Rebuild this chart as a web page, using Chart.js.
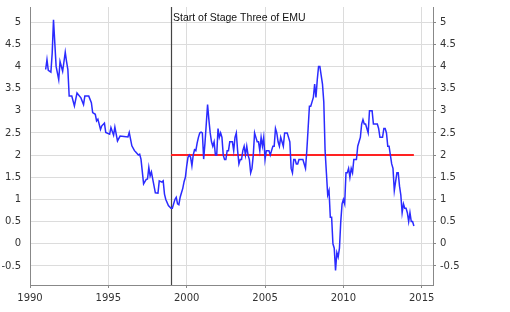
<!DOCTYPE html>
<html>
<head>
<meta charset="utf-8">
<script src="https://cdn.jsdelivr.net/npm/chart.js@4/dist/chart.umd.min.js"></script>
<style>
  html, body { margin: 0; padding: 0; background: #fff; }
  #wrap { width: 510px; height: 312px; }
</style>
</head>
<body>
<div id="wrap"><canvas id="chart" width="510" height="312"></canvas></div>
<script>
// annual HICP inflation, %
// before stage three: sparse monthly readings
const earlyMonths = [
  '1991-01','1991-02','1991-03','1991-05','1991-06','1991-07','1991-09','1991-11','1991-12',
  '1992-02','1992-04','1992-05','1992-06','1992-07','1992-09','1992-11',
  '1993-01','1993-04','1993-06','1993-07','1993-10','1993-12',
  '1994-01','1994-03','1994-04','1994-05','1994-07','1994-08','1994-10','1994-11',
  '1995-02','1995-03','1995-05','1995-06','1995-08','1995-10',
  '1996-01','1996-04','1996-05','1996-07','1996-09','1996-10','1996-12',
  '1997-01','1997-02','1997-04','1997-06','1997-07','1997-08','1997-09','1997-10','1997-11',
  '1998-01','1998-03','1998-04','1998-06','1998-07','1998-08','1998-09','1998-11'
];
const earlyValues = [
  3.93, 4.15, 3.91, 3.87, 4.30, 5.05, 4.00, 3.70, 4.11,
  3.89, 4.32, 4.11, 3.93, 3.33, 3.33, 3.11,
  3.40, 3.29, 3.14, 3.33, 3.33, 3.18,
  2.96, 2.92, 2.77, 2.81, 2.58, 2.66, 2.72, 2.51,
  2.47, 2.62, 2.45, 2.63, 2.32, 2.43,
  2.42, 2.41, 2.51, 2.21, 2.10, 2.07, 2.00,
  2.02, 1.91, 1.35, 1.45, 1.46, 1.72, 1.53, 1.62, 1.46,
  1.15, 1.14, 1.42, 1.39, 1.42, 1.12, 1.00, 0.86
];

// from stage three on: one value per month, starting January 1999
const firstMonth = '1999-01';
const monthlyValues = [
  0.8, 0.8, 0.9, 1.0, 1.05, 0.9, 0.88, 1.05, 1.15, 1.25, 1.4, 1.5,     // 1999
  1.75, 1.95, 2.0, 1.95, 1.76, 2.0, 2.12, 2.1, 2.27, 2.4, 2.5, 2.52,   // 2000
  2.5, 1.91, 2.27, 2.7, 3.14, 2.8, 2.5, 2.3, 2.2, 2.3, 2.0, 2.0,       // 2001
  2.6, 2.4, 2.5, 2.4, 2.0, 1.9, 1.9, 2.1, 2.1, 2.3, 2.3, 2.3,          // 2002
  2.1, 2.4, 2.5, 2.1, 1.8, 1.9, 1.9, 2.1, 2.2, 2.0, 2.2, 2.0,          // 2003
  1.9, 1.6, 1.7, 2.0, 2.5, 2.4, 2.3, 2.3, 2.1, 2.4, 2.2, 2.4,          // 2004
  1.9, 2.1, 2.1, 2.1, 2.0, 2.1, 2.2, 2.2, 2.6, 2.5, 2.3, 2.2,          // 2005
  2.4, 2.3, 2.2, 2.5, 2.5, 2.5, 2.4, 2.3, 1.7, 1.6, 1.9, 1.9,          // 2006
  1.8, 1.8, 1.9, 1.9, 1.9, 1.9, 1.8, 1.7, 2.1, 2.6, 3.1, 3.1,          // 2007
  3.2, 3.3, 3.6, 3.3, 3.7, 4.0, 4.0, 3.8, 3.6, 3.2, 2.1, 1.6,          // 2008
  1.1, 1.2, 0.6, 0.6, 0.0, -0.1, -0.6, -0.2, -0.3, -0.1, 0.5, 0.9,     // 2009
  1.0, 0.9, 1.6, 1.6, 1.7, 1.5, 1.7, 1.6, 1.9, 1.9, 1.9, 2.2,          // 2010
  2.3, 2.4, 2.7, 2.8, 2.7, 2.7, 2.6, 2.5, 3.0, 3.0, 3.0, 2.7,          // 2011
  2.7, 2.7, 2.7, 2.6, 2.4, 2.4, 2.4, 2.6, 2.6, 2.5, 2.2, 2.2,          // 2012
  2.0, 1.8, 1.7, 1.2, 1.4, 1.6, 1.6, 1.3, 1.1, 0.7, 0.9, 0.8,          // 2013
  0.8, 0.7, 0.5, 0.7, 0.5, 0.5, 0.4                                    // 2014
];

// price stability reference line
const targetValue = 2;
const targetFrom = '1999-01';
const targetTo = '2014-07';

const emuStart = '1999-01';
const emuLabel = 'Start of Stage Three of EMU';

const xTicks = [1990, 1995, 2000, 2005, 2010, 2015];
const yTicks = [-0.5, 0, 0.5, 1, 1.5, 2, 2.5, 3, 3.5, 4, 4.5, 5];

function toYear(ym) {
  const [y, m] = ym.split('-').map(Number);
  return y + (m - 1) / 12;
}

let points = earlyMonths.map((m, i) => ({ x: toYear(m), y: earlyValues[i] }));
const start = toYear(firstMonth);
monthlyValues.forEach((v, i) => points.push({ x: start + i / 12, y: v }));

const targetLine = [
  { x: toYear(targetFrom), y: targetValue },
  { x: toYear(targetTo), y: targetValue }
];

Chart.defaults.font.family = 'DejaVu Sans';
Chart.defaults.font.size = 10;
Chart.defaults.color = '#333';

const emuMarker = {
  id: 'emuMarker',
  beforeDatasetsDraw(chart) {
    const ctx = chart.ctx;
    const area = chart.chartArea;
    const x = Math.round(chart.scales.x.getPixelForValue(toYear(emuStart))) + 0.5;
    ctx.save();
    ctx.strokeStyle = '#444';
    ctx.lineWidth = 1.2;
    ctx.beginPath();
    ctx.moveTo(x, area.top);
    ctx.lineTo(x, area.bottom);
    ctx.stroke();
    ctx.fillStyle = '#111';
    ctx.font = '10.5px "Liberation Sans"';
    ctx.textBaseline = 'alphabetic';
    ctx.fillText(emuLabel, x + 1.5, area.top + 14);
    ctx.restore();
  }
};

const yRange = { min: -0.93, max: 5.34 };

// fixed box sizes so the plot area sits where the reference has it
function fixY(width) {
  return (s) => { s.width = width; s.paddingTop = 0; s.paddingBottom = 0; };
}

new Chart(document.getElementById('chart'), {
  type: 'line',
  data: {
    datasets: [
      {
        data: points,
        borderColor: '#2b2bff',
        borderWidth: 1.5,
        pointRadius: 0,
        tension: 0,
        yAxisID: 'y'
      },
      {
        data: targetLine,
        borderColor: '#ff2222',
        borderWidth: 2,
        pointRadius: 0,
        yAxisID: 'y'
      }
    ]
  },
  options: {
    responsive: false,
    animation: false,
    layout: { padding: { top: 7, left: 0, right: 0, bottom: 0 } },
    plugins: { legend: { display: false }, tooltip: { enabled: false } },
    scales: {
      x: {
        type: 'linear',
        min: 1990,
        max: 2015.72,
        afterBuildTicks: (s) => { s.ticks = xTicks.map(v => ({ value: v })); },
        afterFit: (s) => { s.height = 27; s.paddingLeft = 0; s.paddingRight = 0; },
        ticks: { padding: 4, maxRotation: 0, callback: (v) => String(v) },
        grid: { color: '#dcdcdc', tickColor: '#888', tickLength: 3 },
        border: { color: '#888', width: 1 }
      },
      y: {
        position: 'left',
        min: yRange.min,
        max: yRange.max,
        afterBuildTicks: (s) => { s.ticks = yTicks.map(v => ({ value: v })); },
        afterFit: fixY(30),
        ticks: { padding: 9, callback: (v) => String(v) },
        grid: { color: '#dcdcdc', drawTicks: false },
        border: { color: '#888', width: 1 }
      },
      y2: {
        position: 'right',
        min: yRange.min,
        max: yRange.max,
        afterBuildTicks: (s) => { s.ticks = yTicks.map(v => ({ value: v })); },
        afterFit: fixY(77),
        ticks: { padding: 4, callback: (v) => String(v) },
        grid: { drawOnChartArea: false, color: '#888', tickLength: 3 },
        border: { color: '#888', width: 1 }
      }
    }
  },
  plugins: [emuMarker]
});
</script>
</body>
</html>
